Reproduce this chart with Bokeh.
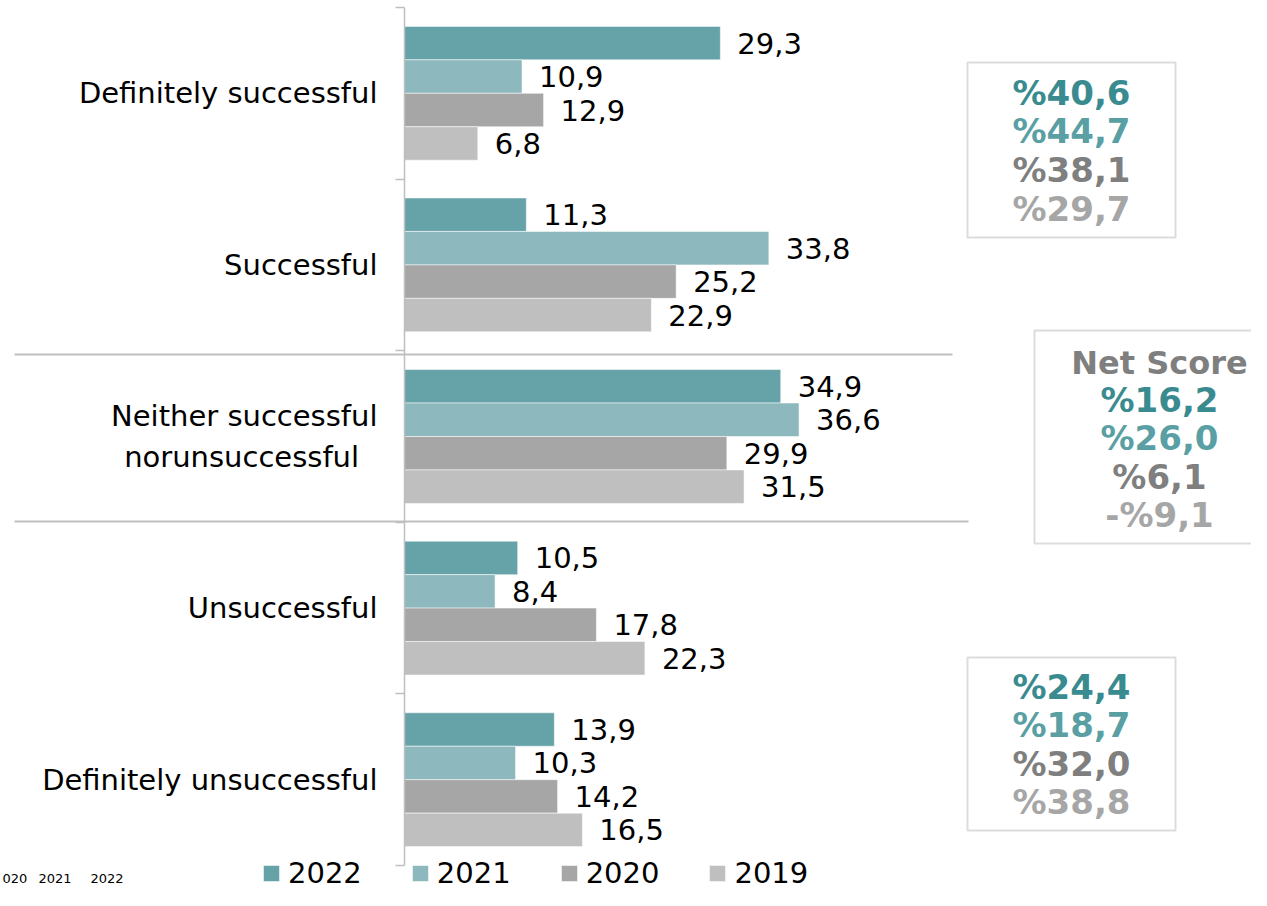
from bokeh.plotting import figure
from bokeh.models import (ColumnDataSource, Range1d, FixedTicker, BoxAnnotation,
                          Label, Arrow, Legend, LegendItem)
from bokeh.transform import dodge
from bokeh.core.properties import value
from bokeh.embed import file_html
from bokeh.resources import INLINE

# ---------------- data ----------------
categories = ["Definitely successful", "Successful",
              "Neither successful\nnorunsuccessful\u00a0\u00a0", "Unsuccessful",
              "Definitely unsuccessful"]
years = ["2022", "2021", "2020", "2019"]
v2022 = [29.3, 11.3, 34.9, 10.5, 13.9]
v2021 = [10.9, 33.8, 36.6, 8.4, 10.3]
v2020 = [12.9, 25.2, 29.9, 17.8, 14.2]
v2019 = [6.8, 22.9, 31.5, 22.3, 16.5]
series = [v2022, v2021, v2020, v2019]
net_title = "Net Score"
footer_labels = ["020", "2021", "2022"]

# ---------------- styles ----------------
bar_colors = ["#66a3a9", "#8db8bd", "#a6a6a6", "#bfbfbf"]
box_text_colors = ["#3a8b90", "#5a9fa3", "#7f7f7f", "#a6a6a6"]
FONT = "DejaVu Sans"

W, H = 1251, 890
XS = 10.78      # px per percent
YS = 171.6      # px per category
AXIS_PX = 404   # x of axis
TOP_PX = 7      # y of top category boundary


def dx(px):
    return (px - AXIS_PX) / XS


def dy(py):
    return 4.5 - (py - TOP_PX) / YS


def fmt(v):
    return f"{v:.1f}".replace(".", ",")


def pct(v):
    s = f"{abs(v):.1f}".replace(".", ",")
    return ("-%" if v < 0 else "%") + s


ypos = list(range(len(categories) - 1, -1, -1))

p = figure(width=W, height=H, output_backend="svg", toolbar_location=None,
           x_range=Range1d(dx(0), dx(W)), y_range=Range1d(dy(H), dy(0)),
           x_axis_location=None, min_border=0, min_border_left=0,
           min_border_right=0, min_border_top=0, min_border_bottom=0)
p.outline_line_color = None
p.grid.grid_line_color = None
p.background_fill_color = "white"
p.border_fill_color = "white"

ax = p.yaxis[0]
ax.fixed_location = 0
ax.ticker = FixedTicker(ticks=ypos, minor_ticks=[y + 0.5 for y in range(-1, 5)])
ax.major_label_overrides = {y: c for y, c in zip(ypos, categories)}
ax.bounds = (-0.5, 4.5)
ax.axis_line_color = "#bfbfbf"
ax.axis_line_width = 1.5
ax.major_tick_line_color = None
ax.major_tick_out = 0
ax.major_tick_in = 0
ax.minor_tick_line_color = "#bfbfbf"
ax.minor_tick_line_width = 1.5
ax.minor_tick_out = 9
ax.minor_tick_in = 0
ax.major_label_standoff = 18
ax.major_label_text_font = FONT
ax.major_label_text_font_size = "29px"
ax.major_label_text_color = "black"

bh = 0.195
offsets = [1.5 * bh, 0.5 * bh, -0.5 * bh, -1.5 * bh]
items = []
for yr, vals, col, off in zip(years, series, bar_colors, offsets):
    src = ColumnDataSource(dict(y=ypos, x=vals, lab=[fmt(v) for v in vals]))
    r = p.hbar(y=dodge("y", off, range=p.y_range), left=0, right="x", height=bh,
               fill_color=col, line_color="white", line_width=1, line_alpha=0.5,
               source=src)
    p.text(x="x", y=dodge("y", off, range=p.y_range), text="lab", x_offset=17,
           text_align="left", text_baseline="middle", text_font=value(FONT),
           text_font_size="29px", text_color="black", source=src)
    items.append(LegendItem(label=yr, renderers=[r]))

legend = Legend(items=items, orientation="horizontal", location=(261, 0),
                glyph_width=20, glyph_height=20, label_standoff=7, spacing=48,
                padding=0, margin=0, border_line_color=None,
                background_fill_alpha=0, label_text_font=FONT,
                label_text_font_size="29px", label_text_color="black")
p.add_layout(legend, "center")

# separator lines
for py, xe in [(354, 952), (521, 968)]:
    p.add_layout(Arrow(end=None, x_start=dx(14), x_end=dx(xe), y_start=dy(py),
                       y_end=dy(py), line_color="#bfbfbf", line_width=2))

# summary values
top2 = [s[0] + s[1] for s in series]
bot2 = [s[3] + s[4] for s in series]
net = [a - b for a, b in zip(top2, bot2)]

boxes = [
    (967, 1175, 62, 237),
    (1034, 1300, 330, 543),
    (967, 1175, 657, 830),
]
for l, r_, t, b in boxes:
    p.add_layout(BoxAnnotation(left=dx(l), right=dx(r_), top=dy(t), bottom=dy(b),
                               fill_alpha=0, line_color="#8c8c8c", line_width=2,
                               level="overlay"))


def box_label(px, py, text, color, size="34px"):
    p.add_layout(Label(x=dx(px), y=dy(py), text=text, text_align="center",
                       text_baseline="middle", text_font=FONT,
                       text_font_style="bold", text_font_size=size,
                       text_color=color))


for i, (v, c) in enumerate(zip(top2, box_text_colors)):
    box_label(1071, 92 + i * 38.7, pct(v), c)
box_label(1159, 362, net_title, "#7f7f7f", "32px")
for i, (v, c) in enumerate(zip(net, box_text_colors)):
    box_label(1159, 399 + i * 38.5, pct(v), c)
for i, (v, c) in enumerate(zip(bot2, box_text_colors)):
    box_label(1071, 686 + i * 38.5, pct(v), c)

# small footer text at the bottom-left corner
for fx, ft in zip([2, 38, 90], footer_labels):
    p.add_layout(Label(x=dx(fx), y=dy(878), text=ft, text_align="left",
                       text_baseline="middle", text_font=FONT,
                       text_font_size="13px", text_color="black"))

open("out.html", "w").write(file_html(p, INLINE))
